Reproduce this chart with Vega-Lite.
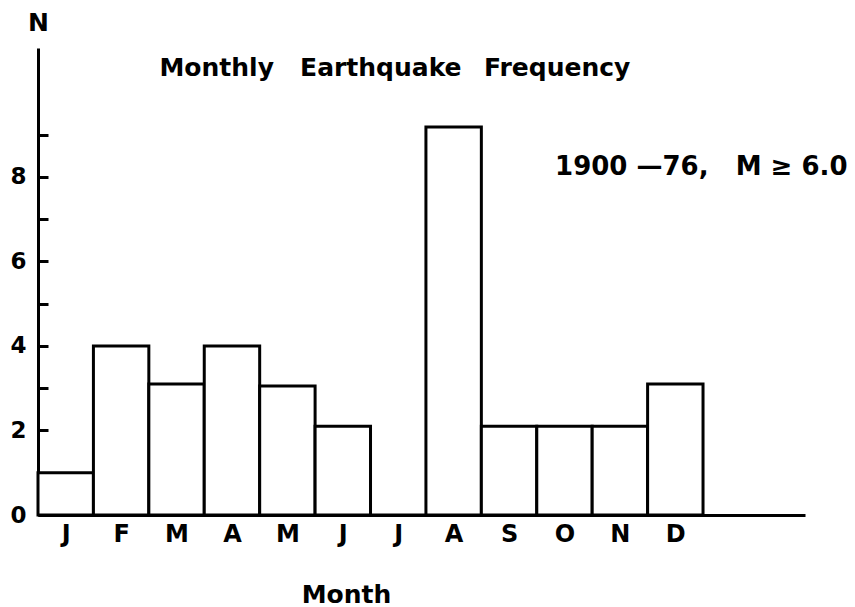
{
  "$schema": "https://vega.github.io/schema/vega-lite/v6.json",
  "autosize": {"type": "none"},
  "width": 767,
  "height": 467,
  "padding": {"left": 38, "top": 48, "right": 50, "bottom": 92},
  "background": "white",
  "config": {
    "view": {"stroke": null},
    "font": "DejaVu Sans",
    "axis": {"grid": false, "domainColor": "black", "domainWidth": 3, "tickColor": "black", "tickWidth": 3, "labelColor": "black", "titleColor": "black", "labelFont": "DejaVu Sans", "titleFont": "DejaVu Sans", "labelFontWeight": "bold", "titleFontWeight": "bold"}
  },
  "layer": [
    {
      "data": {"values": [
        {"month": "J", "start": 0, "end": 1, "n": 1.0},
        {"month": "F", "start": 1, "end": 2, "n": 4.0},
        {"month": "M", "start": 2, "end": 3, "n": 3.1},
        {"month": "A", "start": 3, "end": 4, "n": 4.0},
        {"month": "M", "start": 4, "end": 5, "n": 3.05},
        {"month": "J", "start": 5, "end": 6, "n": 2.1},
        {"month": "J", "start": 6, "end": 7, "n": 0},
        {"month": "A", "start": 7, "end": 8, "n": 9.18},
        {"month": "S", "start": 8, "end": 9, "n": 2.1},
        {"month": "O", "start": 9, "end": 10, "n": 2.1},
        {"month": "N", "start": 10, "end": 11, "n": 2.1},
        {"month": "D", "start": 11, "end": 12, "n": 3.1}
      ]},
      "mark": {"type": "rect", "fill": "white", "stroke": "black", "strokeWidth": 3},
      "encoding": {
        "x": {"field": "start", "type": "quantitative",
              "scale": {"domain": [0, 13.84], "nice": false, "zero": false},
              "axis": {"values": [0.5,1.5,2.5,3.5,4.5,5.5,6.5,7.5,8.5,9.5,10.5,11.5],
                       "labelExpr": "['J','F','M','A','M','J','J','A','S','O','N','D'][floor(datum.value)]",
                       "ticks": false, "labelFontSize": 24, "labelBaseline": "top", "labelPadding": 7,
                       "title": "Month", "titleFontSize": 25, "titleX": 308, "titleY": 87,
                       "titleAlign": "center", "titleBaseline": "alphabetic"}},
        "x2": {"field": "end"},
        "y": {"field": "n", "type": "quantitative",
              "scale": {"domain": [0, 11.05], "nice": false},
              "axis": {"values": [0,1,2,3,4,5,6,7,8,9],
                       "labelExpr": "datum.value % 2 == 0 ? datum.label : ''",
                       "tickSize": -10, "labelPadding": 22, "labelFontSize": 23, "labelBaseline": "middle",
                       "title": "N", "titleAngle": 0, "titleFontSize": 25, "titleX": 0, "titleY": -18,
                       "titleAlign": "center", "titleBaseline": "alphabetic"}},
        "y2": {"datum": 0}
      }
    },
    {
      "data": {"values": [
        {"tx": 6.44, "ty": 10.58, "label": "Monthly\u00a0\u00a0\u00a0Earthquake\u00a0\u00a0\u2009Frequency"}
      ]},
      "mark": {"type": "text", "fontSize": 25, "fontWeight": "bold", "baseline": "middle", "align": "center", "color": "black"},
      "encoding": {
        "x": {"field": "tx", "type": "quantitative"},
        "y": {"field": "ty", "type": "quantitative"},
        "text": {"field": "label"}
      }
    },
    {
      "data": {"values": [
        {"tx": 9.33, "ty": 8.23, "label": "1900 \u201476,\u00a0\u00a0\u00a0M \u2265 6.0"}
      ]},
      "mark": {"type": "text", "fontSize": 26, "fontWeight": "bold", "baseline": "middle", "align": "left", "color": "black"},
      "encoding": {
        "x": {"field": "tx", "type": "quantitative"},
        "y": {"field": "ty", "type": "quantitative"},
        "text": {"field": "label"}
      }
    }
  ]
}
